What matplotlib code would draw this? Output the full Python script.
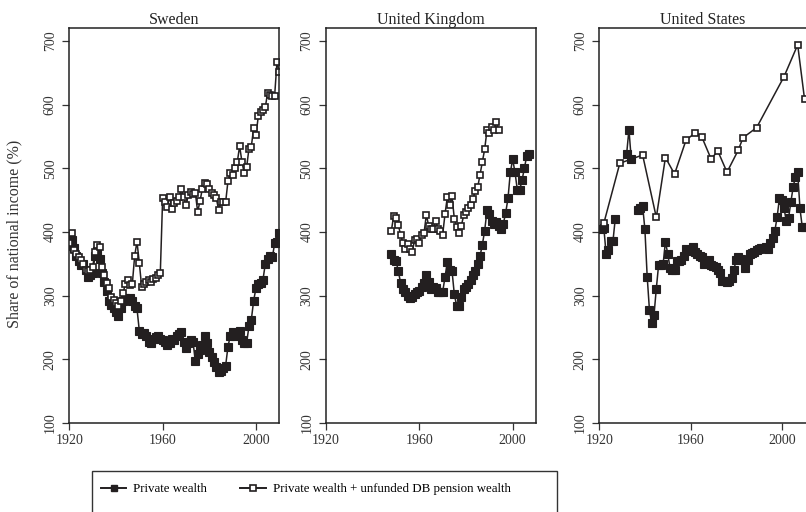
import numpy as np
import matplotlib as mpl
mpl.use('Agg')
import matplotlib.pyplot as plt
from matplotlib.lines import Line2D
from matplotlib.patches import Rectangle

plt.rcParams['font.family'] = ['Liberation Serif', 'DejaVu Serif']

# Sweden, annual 1920-2010
sweden_years = np.arange(1920, 2011)
sweden_private = [
    378, 388, 375, 362, 355, 348, 350, 340, 330, 332,
    335, 362, 370, 358, 335, 322, 308, 292, 285, 280,
    275, 268, 280, 292, 296, 294, 296, 292, 284, 280,
    245, 240, 242, 236, 228, 226, 232, 235, 237, 232,
    230, 228, 222, 226, 232, 230, 236, 240, 243, 228,
    218, 225, 230, 228, 198, 208, 215, 222, 236, 225,
    212, 204, 196, 188, 180, 182, 186, 190, 220, 237,
    243, 236, 240, 245, 230, 225, 226, 252, 262, 292,
    312, 318, 320, 325, 350, 358, 362, 360, 382, 385,
    398,
]
sweden_pension = [
    382, 398, 372, 365, 360, 356, 350, 340, 338, 340,
    345, 368, 380, 376, 345, 333, 320, 312, 298, 293,
    288, 284, 292, 304, 318, 324, 316, 318, 362, 385,
    352, 314, 318, 322, 324, 322, 326, 328, 332, 335,
    453, 447, 440, 455, 436, 445, 448, 455, 467, 455,
    442, 458, 463, 460, 462, 432, 448, 468, 477, 475,
    468, 462, 458, 453, 435, 447, 447, 447, 480, 493,
    489, 500, 510, 535, 510, 492, 502, 531, 534, 563,
    552, 582, 588, 592, 596, 619, 616, 613, 614, 667,
    651,
]

# United Kingdom
uk_private_years = np.arange(1948, 2008)
uk_private = [
    365, 356, 355, 338, 320, 310, 305, 300, 297, 298,
    302, 305, 308, 314, 320, 332, 322, 310, 314, 312,
    306, 305, 306, 329, 353, 340, 339, 302, 284, 283,
    298, 311, 313, 318, 324, 333, 338, 350, 362, 380,
    402, 434, 428, 418, 412, 416, 410, 404, 413, 430,
    453, 494, 514, 494, 466, 466, 481, 500, 519, 522,
]
uk_pension_years = np.arange(1948, 1995)
uk_pension = [
    402, 425, 422, 411, 395, 382, 374, 381, 374, 369,
    388, 389, 382, 395, 398, 427, 410, 405, 405, 418,
    405, 401, 396, 428, 455, 442, 456, 421, 408, 398,
    410, 426, 431, 437, 443, 452, 465, 470, 490, 510,
    530, 560, 555, 565, 560, 573, 561,
]

# United States (gaps in private wealth series)
nan = np.nan
us_private_years = np.arange(1921, 2011)
us_private = [
    404, 406, 365, 372, 386, 386, 421, nan, nan, nan,
    nan, 523, 561, 515, nan, nan, 434, 437, 441, 404,
    330, 277, 257, 270, 311, 348, 348, 350, 385, 366,
    344, 340, 340, 355, 355, 356, 362, 374, 370, 372,
    377, 369, 366, 363, 360, 350, 352, 356, 348, 347,
    345, 341, 335, 323, 323, 322, 323, 328, 340, 356,
    360, 358, 356, 343, 356, 365, 367, 369, 372, 374,
    375, 375, 376, 374, 382, 390, 402, 424, 453, 451,
    437, 418, 422, 447, 470, 487, 494, 437, 408, 408,
]
us_pension_years = [1922, 1929, 1939, 1945, 1949, 1953, 1958, 1962, 1965,
                    1969, 1972, 1976, 1981, 1983, 1989, 2001, 2007, 2010]
us_pension = [414, 508, 521, 423, 517, 491, 544, 556, 549,
              515, 527, 494, 529, 548, 564, 644, 694, 609]

countries = ["Sweden", "United Kingdom", "United States"]
panel_data = [
    (sweden_years, sweden_private, sweden_years, sweden_pension),
    (uk_private_years, uk_private, uk_pension_years, uk_pension),
    (us_private_years, us_private, us_pension_years, us_pension),
]

W, H = 806, 512
fig = plt.figure(figsize=(W / 100, H / 100), dpi=100)

# panel pixel boxes: left, right, xmax
boxes = [(69.3, 279.3, 2010), (326, 536, 2010), (599.3, 806.8, 2011)]
top_px, bot_px = 28.3, 423

dark = '#231f20'
for i, (name, (x1, y1, x2, y2)) in enumerate(zip(countries, panel_data)):
    l, r, xmax = boxes[i]
    ax = fig.add_axes([l / W, (H - bot_px) / H, (r - l) / W, (bot_px - top_px) / H])
    ax.plot(x1, y1, color=dark, lw=1.1, marker='s', ms=5.2, mfc=dark, mec=dark,
            mew=0.8)
    ax.plot(x2, y2, color=dark, lw=1.1, marker='s', ms=4.8, mfc='white', mec=dark,
            mew=1.2)
    ax.set_xlim(1920, xmax)
    ax.set_ylim(100, 720)
    ax.set_xticks([1920, 1960, 2000])
    ax.set_yticks(range(100, 701, 100))
    ax.tick_params(direction='out', length=5, width=0.9, labelsize=10,
                   color='#333333', labelcolor='#333333')
    ax.tick_params(axis='y', labelrotation=90, pad=4)
    ax.tick_params(axis='x', pad=3)
    for lab in ax.get_yticklabels():
        lab.set_va('center')
    for sp in ax.spines.values():
        sp.set_linewidth(1.1)
        sp.set_color('#222222')
    ax.set_title(name, fontsize=11.5, pad=3, color='#222222')

fig.text(14 / W, (H - 234) / H, "Share of national income (%)", rotation=90,
         ha='center', va='center', fontsize=11.5, color='#333333')

# legend box (runs off the bottom edge)
fig.patches.append(Rectangle((92 / W, -0.05), (557 - 92) / W, (H - 471) / H + 0.05,
                             transform=fig.transFigure, fill=False,
                             edgecolor='#333333', lw=1.0))
handles = [
    Line2D([], [], color=dark, lw=1.4, marker='s', ms=5, mfc=dark, mec=dark),
    Line2D([], [], color=dark, lw=1.4, marker='s', ms=5, mfc='white', mec=dark, mew=1.2),
]
fig.legend(handles, ["Private wealth", "Private wealth + unfunded DB pension wealth"],
           loc='center left', bbox_to_anchor=(89 / W, (H - 489) / H), ncol=2,
           frameon=False, fontsize=9.3, handlelength=2.0, handletextpad=0.5,
           columnspacing=2.6)

fig.savefig("out.png", dpi=100)
